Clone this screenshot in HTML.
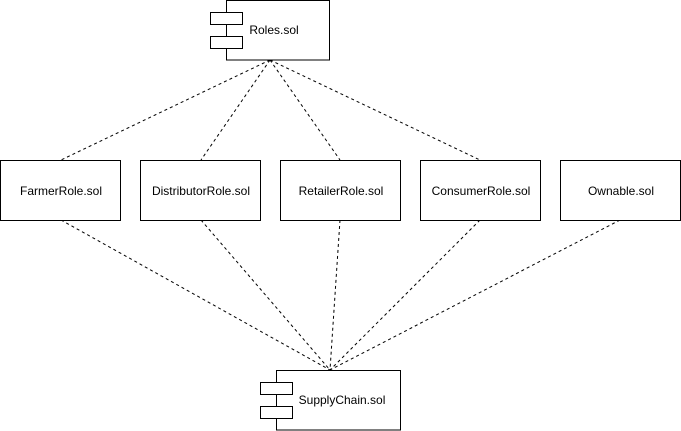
<!DOCTYPE html>
<html><head><meta charset="utf-8"><style>
html,body{margin:0;padding:0;background:#fff;width:681px;height:431px;overflow:hidden}
text{font-family:"Liberation Sans",Helvetica,Arial,sans-serif;font-size:12px;fill:#000}
</style></head><body>
<svg width="681" height="431" viewBox="0 0 681 431" xmlns="http://www.w3.org/2000/svg">
<g stroke="#000" stroke-dasharray="3 3" stroke-width="1" fill="none">
<line x1="270" y1="60" x2="61" y2="160"/>
<line x1="270" y1="60" x2="201" y2="160"/>
<line x1="270" y1="60" x2="340" y2="160"/>
<line x1="270" y1="60" x2="480" y2="160"/>
<line x1="61" y1="220" x2="330" y2="370"/>
<line x1="201" y1="220" x2="330" y2="370"/>
<line x1="340" y1="220" x2="330" y2="370"/>
<line x1="480" y1="220" x2="330" y2="370"/>
<line x1="620" y1="220" x2="330" y2="370"/>
</g>
<g stroke="#000" stroke-width="1" fill="#fff">
<rect x="226.5" y="0.5" width="103" height="59.5"/>
<rect x="210.5" y="12.5" width="32" height="12"/>
<rect x="210.5" y="36.5" width="32" height="12"/>
<rect x="0.5" y="160.5" width="120" height="60"/>
<rect x="140.5" y="160.5" width="120" height="60"/>
<rect x="280.5" y="160.5" width="120" height="60"/>
<rect x="420.5" y="160.5" width="120" height="60"/>
<rect x="560.5" y="160.5" width="120" height="60"/>
<rect x="276.5" y="370.5" width="124" height="59.5"/>
<rect x="260.5" y="382.5" width="32" height="12"/>
<rect x="260.5" y="406.5" width="32" height="12"/>
</g>
<text x="274" y="34" text-anchor="middle">Roles.sol</text>
<text x="61" y="195" text-anchor="middle">FarmerRole.sol</text>
<text x="201" y="195" text-anchor="middle">DistributorRole.sol</text>
<text x="341" y="195" text-anchor="middle">RetailerRole.sol</text>
<text x="481" y="195" text-anchor="middle">ConsumerRole.sol</text>
<text x="621" y="195" text-anchor="middle">Ownable.sol</text>
<text x="342" y="404" text-anchor="middle">SupplyChain.sol</text>
</svg>
</body></html>
